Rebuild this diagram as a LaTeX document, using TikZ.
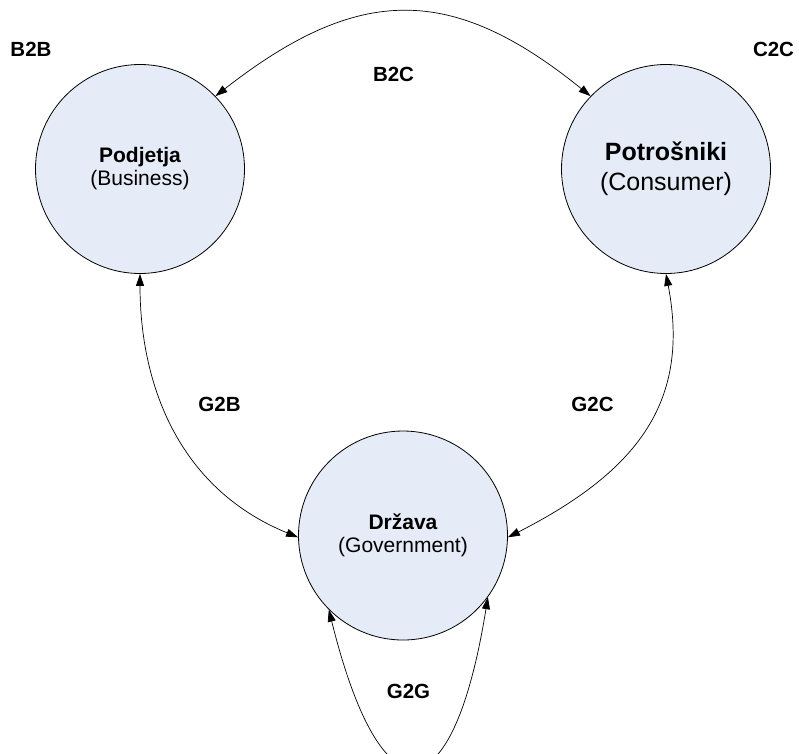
\documentclass[tikz,border=0pt]{standalone}
\usepackage{fontspec}
\setmainfont{Liberation Sans}
\usetikzlibrary{arrows.meta}

\definecolor{partyfill}{RGB}{230,236,247}

\tikzset{
  party/.style={circle, draw=black, line width=0.8pt, fill=partyfill,
    minimum size=209pt, inner sep=0pt, align=center,
    font=\fontsize{21}{23}\selectfont},
  bigparty/.style={party, font=\fontsize{25}{30}\selectfont},
  flow/.style={line width=0.7pt,
    {Triangle[length=12pt,width=8pt]}-{Triangle[length=12pt,width=8pt]}},
  tag/.style={font=\bfseries\fontsize{20.5}{24}\selectfont, inner sep=0pt},
}

\begin{document}
\begin{tikzpicture}[x=1pt, y=-1pt]
  \useasboundingbox (0,0) rectangle (799,753);

  % the three parties
  \node[party] (B) at (140,169) {\textbf{Podjetja}\\(Business)};
  \node[bigparty] (C) at (666,169) {\textbf{Potrošniki}\\(Consumer)};
  \node[party] (G) at (403,535.5) {\textbf{Država}\\(Government)};

  % relations between the parties
  \draw[flow] (B.44) .. controls (359,-16) and (452,-16) .. (C.136);
  \draw[flow] (B.south) .. controls (140,383) and (177.5,488) .. (G.181);
  \draw[flow] (C.south) .. controls (690,400) and (640,470) .. (G.-1);
  \draw[flow] (G.225) .. controls (382,824) and (453,814) .. (G.-36);

  % relation labels
  \node[tag] (lbb) at (31,49.5) {B2B};
  \node[tag] (lcc) at (773.5,49.5) {C2C};
  \node[tag] (lbc) at (393.5,74.5) {B2C};
  \node[tag] (lgb) at (219.5,404.5) {G2B};
  \node[tag] (lgc) at (592.5,404) {G2C};
  \node[tag] (lgg) at (408.5,691.5) {G2G};
\end{tikzpicture}
\end{document}
